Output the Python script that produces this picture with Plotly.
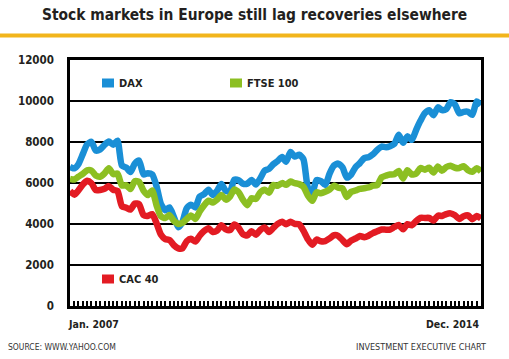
import pandas as pd
import plotly.graph_objects as go

months = pd.date_range("2007-01-01", "2014-12-01", freq="MS")

dax = [6789, 6716, 6917, 7409, 7883, 8007, 7584, 7638, 7862, 8020, 7871, 8067,
       6851, 6748, 6535, 6949, 7097, 6418, 6480, 6422, 5831, 4988, 4670, 4810,
       4338, 3843, 4085, 4770, 4941, 4809, 5332, 5458, 5675, 5415, 5626, 5957,
       5608, 5598, 6154, 6136, 5965, 5966, 6148, 5925, 6229, 6601, 6688, 6914,
       7077, 7272, 7041, 7514, 7294, 7376, 7159, 5785, 5502, 6141, 6089, 5898,
       6458, 6856, 6947, 6761, 6264, 6416, 6772, 6970, 7216, 7260, 7405, 7612,
       7776, 7742, 7795, 7914, 8349, 7959, 8276, 8104, 8594, 9033, 9406, 9552,
       9306, 9692, 9556, 9603, 9943, 9833, 9407, 9470, 9474, 9327, 9980, 9806]

ftse = [6203, 6172, 6308, 6449, 6621, 6608, 6360, 6303, 6467, 6722, 6432, 6457,
        5880, 5884, 5702, 6087, 6054, 5626, 5412, 5637, 4903, 4377, 4288, 4434,
        4150, 4000, 4050, 4244, 4418, 4249, 4608, 4909, 5134, 5045, 5191, 5413,
        5189, 5355, 5680, 5553, 5188, 4917, 5258, 5225, 5549, 5675, 5528, 5900,
        5863, 5994, 5909, 6070, 5990, 5946, 5815, 5395, 5128, 5544, 5505, 5572,
        5682, 5872, 5768, 5738, 5321, 5571, 5635, 5711, 5742, 5783, 5867, 5898,
        6277, 6361, 6412, 6430, 6583, 6215, 6621, 6413, 6462, 6731, 6651, 6749,
        6510, 6810, 6598, 6780, 6845, 6744, 6730, 6820, 6623, 6546, 6723, 6566]

cac = [5609, 5429, 5634, 5924, 6105, 5988, 5652, 5663, 5716, 5848, 5670, 5614,
       4870, 4790, 4707, 4997, 4963, 4434, 4392, 4482, 4032, 3487, 3263, 3218,
       2963, 2808, 2807, 3160, 3278, 3140, 3426, 3653, 3796, 3607, 3680, 3936,
       3739, 3708, 3974, 3817, 3508, 3443, 3643, 3477, 3715, 3833, 3610, 3805,
       4006, 4110, 3989, 4107, 4006, 3982, 3672, 3256, 2982, 3242, 3155, 3160,
       3298, 3453, 3424, 3213, 3017, 3197, 3292, 3414, 3355, 3429, 3557, 3641,
       3733, 3723, 3731, 3857, 3949, 3739, 3993, 3934, 4143, 4299, 4295, 4296,
       4165, 4408, 4392, 4487, 4519, 4423, 4247, 4381, 4416, 4233, 4390, 4273]

series = [("DAX", dax, "#1a8fd6"), ("FTSE 100", ftse, "#8cbf22"), ("CAC 40", cac, "#e31b23")]
y_ticks = [0, 2000, 4000, 6000, 8000, 10000, 12000]
y_tick_labels = ["0", "2000", "4000", "6000", "8000", "10000", "12000"]

title_text = "Stock markets in Europe still lag recoveries elsewhere"
start_label = "Jan. 2007"
end_label = "Dec. 2014"
source_text = "SOURCE: WWW.YAHOO.COM"
credit_text = "INVESTMENT EXECUTIVE CHART"

NARROW = "DejaVu Sans Condensed, DejaVu Sans, sans-serif"
DARK = "#231f20"
PL, PT, PW, PH = 70, 60, 411, 246  # plot area in pixels


def fx(px):
    return (px - PL) / PW


def fy(py):
    return (PT + PH - py) / PH


fig = go.Figure()
for name, vals, col in series:
    fig.add_trace(go.Scatter(x=months, y=vals, mode="lines", name=name,
                             line=dict(color=col, width=6.5, shape="spline", smoothing=0.6),
                             showlegend=False))

fig.update_layout(
    width=509, height=359,
    margin=dict(l=PL, r=509 - PL - PW, t=PT, b=359 - PT - PH, autoexpand=False),
    paper_bgcolor="white", plot_bgcolor="white",
    font=dict(family=NARROW, color=DARK),
)
fig.update_xaxes(
    range=[months[0], months[-1]],
    showgrid=False, showticklabels=False,
    ticks="inside", ticklen=5, tickwidth=1.5, tickcolor="black",
    dtick="M1", tick0=months[0],
    showline=True, linecolor="black", linewidth=3, mirror=True,
)
fig.update_yaxes(
    range=[0, 12000], tickvals=y_ticks, ticktext=y_tick_labels,
    showgrid=True, gridcolor="black", gridwidth=2, zeroline=False,
    showline=True, linecolor="black", linewidth=2.5, mirror=True,
    ticks="", ticklabelstandoff=11,
    tickfont=dict(family=NARROW, size=11.5, color=DARK, weight="bold"),
)

# Title and yellow rule
fig.add_annotation(text=title_text, xref="paper", yref="paper", x=fx(254), y=fy(15),
                   xanchor="center", yanchor="middle", showarrow=False,
                   font=dict(family=NARROW, size=15.4, color=DARK, weight="bold"))
fig.add_shape(type="line", xref="paper", yref="paper", x0=fx(0), x1=fx(509),
              y0=fy(35.5), y1=fy(35.5), line=dict(color="#f2b51c", width=4))

# Legend (custom placement)
legend_pos = {"DAX": (102, 83), "FTSE 100": (230, 83), "CAC 40": (102, 279)}
for name, vals, col in series:
    px, py = legend_pos[name]
    fig.add_shape(type="rect", xref="paper", yref="paper",
                  x0=fx(px), x1=fx(px + 12), y0=fy(py + 4.5), y1=fy(py - 4.5),
                  line=dict(width=0), fillcolor=col)
    fig.add_annotation(text=name, xref="paper", yref="paper", x=fx(px + 15),
                       y=fy(py), xanchor="left", yanchor="middle", showarrow=False,
                       font=dict(family=NARROW, size=11, color=DARK, weight="bold"))

# Axis end labels
fig.add_annotation(text=start_label, xref="paper", yref="paper", x=fx(66), y=fy(324),
                   xanchor="left", yanchor="middle", showarrow=False,
                   font=dict(family=NARROW, size=10.5, color=DARK, weight="bold"))
fig.add_annotation(text=end_label, xref="paper", yref="paper", x=fx(481), y=fy(324),
                   xanchor="right", yanchor="middle", showarrow=False,
                   font=dict(family=NARROW, size=10.5, color=DARK, weight="bold"))

# Footer
fig.add_annotation(text=source_text, xref="paper", yref="paper", x=fx(6), y=fy(347),
                   xanchor="left", yanchor="middle", showarrow=False,
                   font=dict(family=NARROW, size=8.5, color="#333333"))
fig.add_annotation(text=credit_text, xref="paper", yref="paper", x=fx(488), y=fy(347),
                   xanchor="right", yanchor="middle", showarrow=False,
                   font=dict(family=NARROW, size=9, color="#333333"))

fig.write_html("out.html", config={"displayModeBar": False},
               post_script="document.body.style.margin='0';document.body.style.overflow='hidden';")
